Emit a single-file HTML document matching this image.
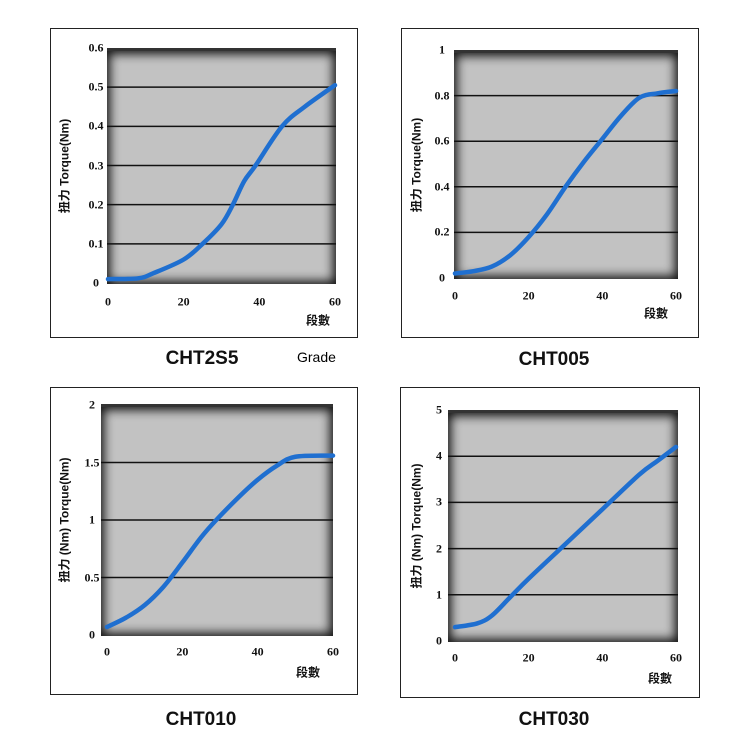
<!DOCTYPE html>
<html><head><meta charset="utf-8">
<style>
body{margin:0;background:#fff;width:750px;height:750px;overflow:hidden;position:relative;font-family:"Liberation Sans","Noto Sans CJK TC",sans-serif}
.box{position:absolute;border:1.5px solid #222;box-sizing:border-box}
.plot{position:absolute;background:#c2c2c2;box-shadow:inset 0 0 10px 3px #111;border-top:3px solid #333;box-sizing:border-box}
.t{position:absolute;font-family:"Liberation Serif","Noto Serif CJK SC",serif;font-size:12px;font-weight:bold;color:#111;transform:translate(-50%,-50%);white-space:nowrap}
.ttl{position:absolute;font-weight:bold;font-size:19px;transform:translate(-50%,-50%);color:#111}
.yl{position:absolute;font-size:12px;font-weight:bold;transform:translate(-50%,-50%) rotate(-90deg);white-space:nowrap;color:#111}
svg{position:absolute;left:0;top:0}
</style></head><body>
<div class="box" style="left:50px;top:28px;width:308px;height:310px"></div>
<div class="box" style="left:401px;top:28px;width:298px;height:310px"></div>
<div class="box" style="left:50px;top:387px;width:308px;height:308px"></div>
<div class="box" style="left:400px;top:387px;width:300px;height:311px"></div>
<div id="c"></div>
<svg id="s" width="750" height="750"></svg>
<div class="ttl" style="left:202px;top:359px">CHT2S5</div>
<div style="position:absolute;left:297px;top:349px;font-size:14px">Grade</div>
<div class="ttl" style="left:554px;top:360px">CHT005</div>
<div class="ttl" style="left:201px;top:720px">CHT010</div>
<div class="ttl" style="left:554px;top:720px">CHT030</div>
<script>
var charts=[
{px0:107,px1:336,py0:48,py1:284,x0:108,x1:335,yb:283,yt:48,ymax:0.6,ticks:[0,0.1,0.2,0.3,0.4,0.5,0.6],lx:96,xly:302,ux:318,uy:320,ylx:64,yl:"扭力 Torque(Nm)",
 d:[[0,0.01],[8,0.012],[12,0.025],[20,0.06],[25,0.1],[30,0.15],[33,0.2],[36,0.26],[39,0.3],[46,0.4],[52,0.45],[60,0.505]]},
{px0:454,px1:678,py0:50,py1:279,x0:455,x1:676,yb:278,yt:50,ymax:1,ticks:[0,0.2,0.4,0.6,0.8,1],lx:442,xly:296,ux:656,uy:313,ylx:416,yl:"扭力 Torque(Nm)",
 d:[[0,0.02],[5,0.03],[10,0.05],[15,0.1],[20,0.18],[25,0.28],[30,0.4],[35,0.51],[40,0.61],[45,0.71],[50,0.79],[55,0.81],[60,0.82]]},
{px0:101,px1:333,py0:404,py1:636,x0:107,x1:333,yb:635,yt:405,ymax:2,ticks:[0,0.5,1,1.5,2],lx:92,xly:652,ux:308,uy:672,ylx:64,yl:"扭力 (Nm) Torque(Nm)",
 d:[[0,0.07],[5,0.15],[10,0.26],[15,0.42],[20,0.63],[25,0.85],[29,1.0],[35,1.2],[40,1.35],[45,1.47],[50,1.55],[60,1.56]]},
{px0:448,px1:678,py0:410,py1:642,x0:455,x1:676,yb:641,yt:410,ymax:5,ticks:[0,1,2,3,4,5],lx:439,xly:658,ux:660,uy:678,ylx:416,yl:"扭力 (Nm) Torque(Nm)",
 d:[[0,0.3],[6,0.38],[10,0.55],[15,0.95],[20,1.35],[30,2.1],[40,2.85],[50,3.6],[55,3.9],[60,4.2]]}
];
var c=document.getElementById('c'),s='',h='';
charts.forEach(function(k){
 h+='<div class="plot" style="left:'+k.px0+'px;top:'+k.py0+'px;width:'+(k.px1-k.px0)+'px;height:'+(k.py1-k.py0)+'px"></div>';
 function Y(v){return k.yb-(k.yb-k.yt)*v/k.ymax}
 function X(v){return k.x0+(k.x1-k.x0)*v/60}
 k.ticks.forEach(function(t){
  var y=Y(t);
  if(t>0&&t<k.ymax) s+='<line x1="'+k.px0+'" x2="'+k.px1+'" y1="'+y+'" y2="'+y+'" stroke="#111" stroke-width="1.5"/>';
  h+='<div class="t" style="left:'+k.lx+'px;top:'+y+'px">'+t+'</div>';
 });
 [0,20,40,60].forEach(function(t){h+='<div class="t" style="left:'+X(t)+'px;top:'+k.xly+'px">'+t+'</div>';});
 h+='<div class="t" style="left:'+k.ux+'px;top:'+k.uy+'px;font-family:\'Noto Sans CJK TC\',sans-serif">段數</div>';
 h+='<div class="yl" style="left:'+k.ylx+'px;top:'+((k.py0+k.py1)/2)+'px">'+k.yl+'</div>';
 var p=k.d.map(function(q){return [X(q[0]),Y(q[1])]});
 var dd='M'+p[0][0]+','+p[0][1];
 for(var i=0;i<p.length-1;i++){
  var p0=p[i-1]||p[i],p1=p[i],p2=p[i+1],p3=p[i+2]||p2;
  dd+=' C'+(p1[0]+(p2[0]-p0[0])/6)+','+(p1[1]+(p2[1]-p0[1])/6)+' '+(p2[0]-(p3[0]-p1[0])/6)+','+(p2[1]-(p3[1]-p1[1])/6)+' '+p2[0]+','+p2[1];
 }
 s+='<path d="'+dd+'" fill="none" stroke="#1f6fd0" stroke-width="4.5" stroke-linecap="round"/>';
});
c.innerHTML=h;
document.getElementById('s').innerHTML=s;
</script>
</body></html>
